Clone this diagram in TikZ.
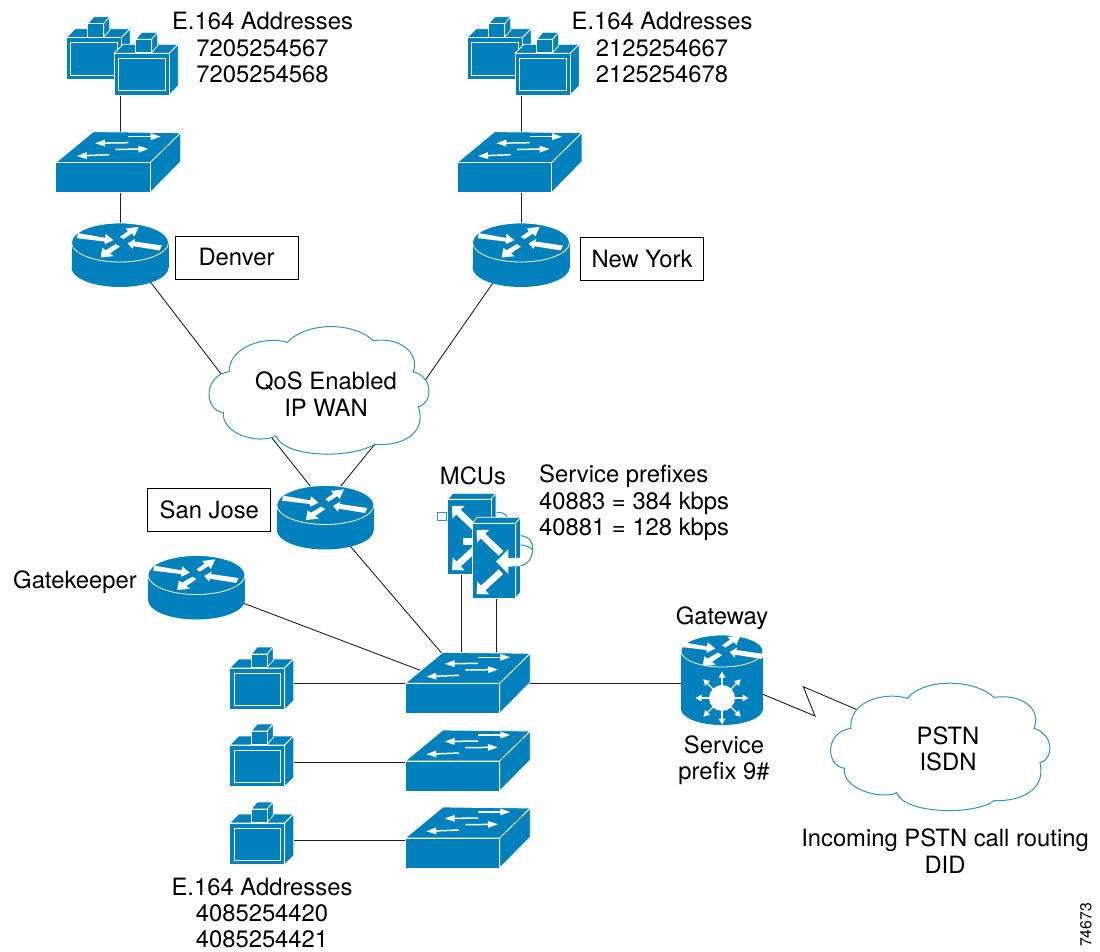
\documentclass[tikz,border=0pt]{standalone}
\usepackage{fontspec}
\setmainfont{TeX Gyre Heros}
\usetikzlibrary{arrows.meta,calc}
\definecolor{cblue}{HTML}{0081BE}
\definecolor{cloudline}{HTML}{2E93C8}
\tikzset{
  lbl/.style={inner sep=0pt,align=center,font=\fontsize{23.8}{26.4}\selectfont},
  lblleft/.style={inner sep=0pt,align=left,font=\fontsize{23.8}{26.4}\selectfont},
  boxed/.style={lbl,draw=black,line width=.9pt,minimum width=123pt,minimum height=43pt},
  conn/.style={draw=black!88,line width=.9pt},
  cloudshape/.style={fill=white,draw=cloudline,line width=1pt},
  body/.style={fill=cblue,draw=white,line width=.8pt,line join=round},
  swarrow/.style={white,line width=1.5pt,-{Triangle[length=10pt,width=6.5pt]}},
  routerarrows/.pic={
    \begin{scope}[x=.3333pt,y=-.3333pt]
      \fill[white] (-126,-28)--(-45,-14)--(-43,-26)--(-20,-7)--(-45,5)--(-47,-3)--(-130,-13)--cycle;
      \fill[white] (0,-17)--(24,-34)--(17,-42)--(56,-47)--(43,-18)--(36,-27)--(10,-10)--cycle;
      \fill[white] (23,3)--(46,-11)--(43,-3)--(126,9)--(119,24)--(40,11)--(38,20)--cycle;
      \fill[white] (-58,45)--(-53,16)--(-43,23)--(-13,5)--(0,12)--(-30,33)--(-19,41)--cycle;
    \end{scope}
  },
  routericon/.pic={
    \fill[cblue] (0,25) ellipse [x radius=48.5,y radius=19.5];
    \fill[cblue] (-48.5,0) rectangle (48.5,25);
    \path[body] (0,0) ellipse [x radius=48.5,y radius=19.5];
    \pic {routerarrows};
  },
  gatewayicon/.pic={
    \fill[cblue] (0,58) ellipse [x radius=41,y radius=16];
    \fill[cblue] (-41,0) rectangle (41,58);
    \path[body] (0,0) ellipse [x radius=41,y radius=16];
    \begin{scope}[xscale=.84,yscale=.82]\pic {routerarrows};\end{scope}
    \fill[white] (0,47) circle (13);
    \foreach \a in {0,45,...,315}
      \draw[white,line width=1.3pt,-{Triangle[length=6pt,width=6.5pt]}] ($(0,47)+(\a:12)$) -- ($(0,47)+(\a:26.5)$);
  },
  switchicon/.pic={
    \path[body] (0,0)--(37.5,-31)--(125,-30)--(94.5,0)--cycle;
    \path[body] (94.5,0)--(125,-30)--(125,-1)--(94.5,30)--cycle;
    \path[body] (0,0) rectangle (94.5,30);
    \draw[swarrow] (72.7,-26) -- (105,-26);
    \draw[swarrow] (72.7,-20) -- (39.3,-19.5);
    \draw[swarrow] (60,-13.3) -- (92.7,-13.7);
    \draw[swarrow] (53.7,-8) -- (21,-6.7);
  },
  phoneicon/.pic={
    \path[body] (0,0)--(9,-9)--(64.3,-9)--(55.3,0)--cycle;
    \path[body] (55.3,0)--(64.3,-9)--(64.3,32.5)--(55.3,41.7)--cycle;
    \path[body] (0,0) rectangle (55.3,41.7);
    \draw[white,line width=.9pt] (4.5,5) rectangle (51,37.3);
    \path[body] (21.7,-14)--(27.7,-21)--(43.7,-21)--(37.7,-14)--cycle;
    \path[body] (37.7,-14)--(43.7,-21)--(43.7,-7.5)--(37.7,-.7)--cycle;
    \path[body] (21.7,-14) rectangle (37.7,-.7);
  },
  mcuicon/.pic={
    \path[body] (0,0)--(5,-6)--(48.3,-6)--(43.3,0)--cycle;
    \path[body] (43.3,0)--(48.3,-6)--(48.3,69)--(43.3,75)--cycle;
    \path[body] (0,0) rectangle (43.3,75);
    \draw[white,line width=6.5pt,-{Triangle[length=9pt,width=17pt]}] (28.7,30) -- (4.3,6.7);
    \draw[white,line width=6.5pt,-{Triangle[length=9pt,width=17pt]}] (28.7,48.3) -- (4.3,70.7);
  }
}
\begin{document}
\begin{tikzpicture}[x=1pt,y=-1pt]
\useasboundingbox (0,0) rectangle (1100,952);

% device anchors
\coordinate (phD) at (120,85);
\coordinate (swD) at (120,165);
\coordinate (rD) at (120,242.5);
\coordinate (phN) at (521,85);
\coordinate (swN) at (521,165);
\coordinate (rN) at (521,242.5);
\coordinate (rS) at (325.3,505);
\coordinate (rSout) at (345,540);
\coordinate (rG) at (196.5,575);
\coordinate (rGout) at (235,600);
\coordinate (sw1) at (461,683);
\coordinate (sw1nw) at (445,657);
\coordinate (sw1gk) at (430,674);
\coordinate (sw2) at (450,762);
\coordinate (sw3) at (450,840);
\coordinate (ph1) at (257,683);
\coordinate (ph2) at (257,762);
\coordinate (ph3) at (257,840);
\coordinate (gw) at (722,683);
\coordinate (gwout) at (755,691);
\coordinate (mcuA) at (461,560);
\coordinate (mcuAs) at (461,652);
\coordinate (mcuB) at (496,580);
\coordinate (mcuBs) at (496,652);
\coordinate (wanNW) at (225,379);
\coordinate (wanNE) at (424,382);
\coordinate (wanSW) at (272,438);
\coordinate (wanSE) at (375,444);
\coordinate (zigA) at (815,716);
\coordinate (zigB) at (803.3,686.7);
\coordinate (pstnW) at (860,711);

% connectors
\draw[conn] (phD) -- (swD);
\draw[conn] (swD) -- (rD);
\draw[conn] (phN) -- (swN);
\draw[conn] (swN) -- (rN);
\draw[conn] (rD) -- (wanNW);
\draw[conn] (rN) -- (wanNE);
\draw[conn] (rS) -- (wanSW);
\draw[conn] (rS) -- (wanSE);
\draw[conn] (rSout) -- (sw1nw);
\draw[conn] (rGout) -- (sw1gk);
\draw[conn] (mcuA) -- (mcuAs);
\draw[conn] (mcuB) -- (mcuBs);
\draw[conn] (ph1) -- (sw1);
\draw[conn] (ph2) -- (sw2);
\draw[conn] (ph3) -- (sw3);
\draw[conn] (sw1) -- (gw);
\draw[conn,line join=miter] (gwout) -- (zigA) -- (zigB) -- (pstnW);

% clouds
\begin{scope}[shift={(200,310)},x=.3333pt,y=-.3333pt]
  \path[cloudshape] (88,185) .. controls (85,115) and (190,75) .. (262,97)
    .. controls (320,35) and (460,35) .. (520,92)
    .. controls (600,80) and (660,130) .. (640,185)
    .. controls (700,200) and (700,280) .. (655,290)
    .. controls (680,360) and (620,410) .. (525,403)
    .. controls (440,450) and (250,440) .. (228,378)
    .. controls (170,405) and (65,370) .. (70,308)
    .. controls (10,300) and (10,195) .. (88,185) -- cycle;
\end{scope}
\begin{scope}[shift={(790,680)},x=.3333pt,y=-.3333pt]
  \path[cloudshape] (183,145) .. controls (175,60) and (290,35) .. (352,55)
    .. controls (400,-5) and (550,-5) .. (612,52)
    .. controls (700,40) and (755,90) .. (732,145)
    .. controls (795,165) and (790,240) .. (750,248)
    .. controls (770,330) and (690,365) .. (612,362)
    .. controls (560,405) and (345,405) .. (320,338)
    .. controls (280,360) and (155,330) .. (163,265)
    .. controls (105,255) and (105,155) .. (183,145) -- cycle;
\end{scope}

% icons
\pic at (66,37.7) {phoneicon};
\pic at (114,53.3) {phoneicon};
\pic at (467,37.7) {phoneicon};
\pic at (515,53.3) {phoneicon};
\pic at (55.7,162.7) {switchicon};
\pic at (457,162.7) {switchicon};
\pic at (rD) {routericon};
\pic at (rN) {routericon};
\pic at (rS) {routericon};
\pic at (rG) {routericon};
\pic at (229.5,668) {phoneicon};
\pic at (229.5,745) {phoneicon};
\pic at (229.5,823) {phoneicon};
\pic at (405.3,683.3) {switchicon};
\pic at (405.3,761) {switchicon};
\pic at (405.3,838) {switchicon};
\pic at (722,651) {gatewayicon};

% MCUs
\begin{scope}[shift={(400,470)},x=.3333pt,y=-.3333pt]
  \draw[cloudline,line width=1pt,fill=white] (113,127) rectangle (140,153);
  \draw[cloudline,line width=1pt] (290,127) .. controls (305,125) and (318,132) .. (322,142);
\end{scope}
\pic at (447.7,499.3) {mcuicon};
\begin{scope}[shift={(400,470)},x=.3333pt,y=-.3333pt]
  \fill[white] (190,203) rectangle (217,225);
\end{scope}
\pic at (472.3,523.3) {mcuicon};
\begin{scope}[shift={(400,470)},x=.3333pt,y=-.3333pt]
  \draw[cloudline,line width=1.1pt] (362,197) .. controls (392,200) and (400,220) .. (398,240)
     .. controls (396,270) and (380,288) .. (345,290);
  \draw[cloudline,line width=1.1pt] (362,225) .. controls (375,226) and (390,230) .. (396,238);
  \fill[white] (288,275)--(325,238)--(325,265)--(362,263)--(362,288)--(325,290)--(325,312)--cycle;
\end{scope}

% labels
\node[lbl] (t1) at (262.5,47.8) {E.164 Addresses\\7205254567\\7205254568};
\node[lbl] (t2) at (662,47.8) {E.164 Addresses\\2125254667\\2125254678};
\node[boxed] (denver) at (236.5,257.5) {\raisebox{-1pt}{Denver}};
\node[boxed] (newyork) at (642,259) {New York};
\node[lbl] (wan) at (326,394) {QoS Enabled\\IP WAN};
\node[boxed] (sanjose) at (209.3,509.7) {\raisebox{-1.5pt}{San Jose}};
\node[lbl] (gk) at (75,582) {Gatekeeper};
\node[lbl] (mcus) at (473,476) {MCUs};
\node[lblleft,anchor=west] (sp) at (539,503) {Service prefixes\\40883 = 384 kbps\\40881 = 128 kbps};
\node[lbl] (gwt) at (722,618.5) {Gateway};
\node[lbl] (gws) at (724,760) {Service\\prefix 9\#};
\node[lbl] (pstn) at (948,749) {PSTN\\ISDN};
\node[lbl] (inc) at (945,851) {Incoming PSTN call routing\\DID};
\node[lbl] (t3) at (262,913) {E.164 Addresses\\4085254420\\4085254421};
\node[inner sep=0pt,rotate=90,font=\fontsize{15.8}{18}\selectfont] (fig) at (1086,925) {74673};
\end{tikzpicture}
\end{document}
